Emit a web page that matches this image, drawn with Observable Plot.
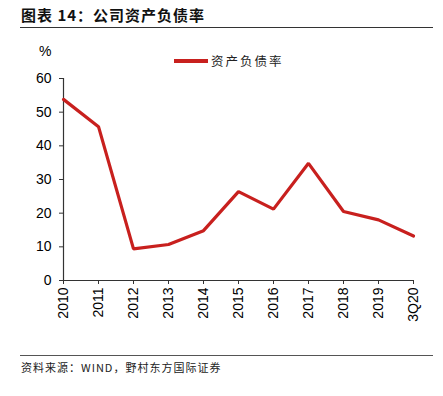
<!DOCTYPE html>
<html><head><meta charset="utf-8">
<script src="https://cdn.jsdelivr.net/npm/d3@7"></script>
<script src="https://cdn.jsdelivr.net/npm/@observablehq/plot@0.6"></script>
<style>
body{margin:0;background:#fff;width:443px;height:396px;position:relative;overflow:hidden;font-family:"Liberation Sans",Arial,sans-serif;}
#title{position:absolute;left:21px;top:4px;font-family:"Noto Sans CJK SC";font-weight:700;font-size:15px;color:#111;letter-spacing:1px;}
#rule1{position:absolute;left:20px;top:27px;width:413px;height:0;border-top:1.5px solid #333;}
#pct{position:absolute;left:39px;top:43px;font-size:14px;color:#000;}
#legend{position:absolute;left:174px;top:51px;font-family:"Noto Sans CJK SC";font-size:12.5px;color:#222;display:flex;align-items:center;letter-spacing:2px;}
#legend span.sw{display:inline-block;width:34px;height:4px;background:#C8201E;margin-right:3px;}
#chart{position:absolute;left:0;top:36px;}
#rule2{position:absolute;left:20px;top:355px;width:413px;height:0;border-top:1px solid #555;}
#source{position:absolute;left:21px;top:359px;font-family:"Noto Sans CJK SC";font-size:11px;color:#222;letter-spacing:1px;}
</style></head>
<body>
<div id="title">图表 14：公司资产负债率</div>
<div id="rule1"></div>
<div id="pct">%</div>
<div id="legend"><span class="sw"></span>资产负债率</div>
<div id="chart"></div>
<div id="rule2"></div>
<div id="source">资料来源：WIND，野村东方国际证券</div>
<script>
const periods = ["2010","2011","2012","2013","2014","2015","2016","2017","2018","2019","3Q20"];
const ratio = [53.8, 45.7, 9.4, 10.7, 14.8, 26.4, 21.2, 34.8, 20.5, 18.0, 13.2];
const yTicks = [0,10,20,30,40,50,60];
const data = periods.map((p,i)=>({period:p, value:ratio[i]}));
const chart = Plot.plot({
  width: 443, height: 300,
  marginLeft: 63, marginRight: 30, marginTop: 42, marginBottom: 56,
  style:{fontFamily:"'Liberation Sans', Arial, sans-serif", fontSize:"14px", color:"#000", background:"transparent"},
  x:{type:"point", domain: periods, padding:0},
  y:{domain:[0,60]},
  marks:[
    Plot.axisY({ticks:yTicks, tickSize:4, tickPadding:8, label:null, stroke:"#333", fontSize:14}),
    Plot.axisX({tickSize:4, tickPadding:3, tickRotate:-90, label:null, stroke:"#333", fontSize:14}),
    Plot.ruleY([0], {stroke:"#333", strokeWidth:1.2}),
    Plot.ruleX([periods[0]], {y1:0, y2:60, stroke:"#333", strokeWidth:1.2}),
    Plot.line(data, {x:"period", y:"value", stroke:"#C8201E", strokeWidth:3.2, strokeLinejoin:"miter"})
  ]
});
document.getElementById("chart").appendChild(chart);
</script>
</body></html>
